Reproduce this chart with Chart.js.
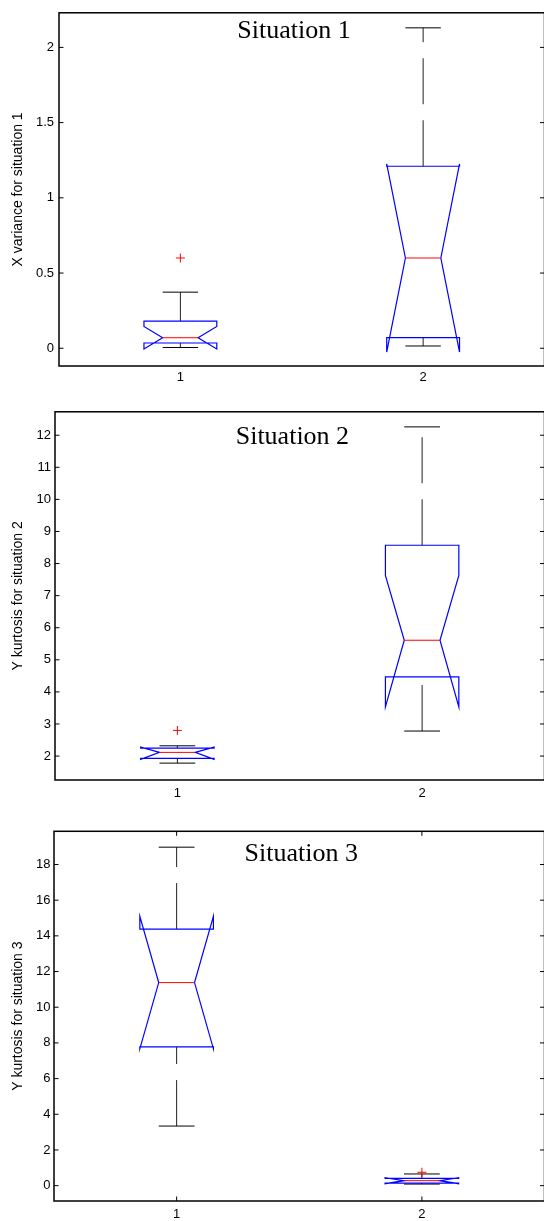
<!DOCTYPE html>
<html>
<head>
<meta charset="utf-8">
<script src="https://cdn.jsdelivr.net/npm/chart.js@4.4.1/dist/chart.umd.min.js"></script>
<style>
html, body { margin: 0; padding: 0; background: #fff; overflow: hidden; width: 544px; height: 1221px; }
canvas { position: absolute; left: 0; }
</style>
</head>
<body>
<canvas id="sit1" width="550" height="400" style="top:0px"></canvas>
<canvas id="sit2" width="550" height="420" style="top:400px"></canvas>
<canvas id="sit3" width="550" height="401" style="top:820px"></canvas>
<script>
// groups on the x axis
const groups = [1, 2];
const xTicks = [1, 2];

// Situation 1 - box stats
const s1WhiskerLo = [0.005, 0.015];
const s1Q1 = [0.035, 0.07];
const s1NotchLo = [-0.005, -0.025];
const s1Median = [0.07, 0.60];
const s1NotchHi = [0.145, 1.225];
const s1Q3 = [0.18, 1.21];
const s1WhiskerHi = [0.373, 2.13];
const s1OutX = [1];
const s1OutY = [0.60];
const s1Ticks = [0, 0.5, 1, 1.5, 2];

// Situation 2
const s2WhiskerLo = [1.78, 2.78];
const s2Q1 = [1.93, 4.47];
const s2NotchLo = [1.90, 3.53];
const s2Median = [2.115, 5.61];
const s2NotchHi = [2.28, 7.63];
const s2Q3 = [2.25, 8.57];
const s2WhiskerHi = [2.32, 12.26];
const s2OutX = [1];
const s2OutY = [2.80];
const s2Ticks = [2, 3, 4, 5, 6, 7, 8, 9, 10, 11, 12];

// Situation 3
const s3WhiskerLo = [3.34, 0.09];
const s3Q1 = [7.78, 0.14];
const s3NotchLo = [7.67, 0.11];
const s3Median = [11.38, 0.28];
const s3NotchHi = [15.09, 0.45];
const s3Q3 = [14.38, 0.41];
const s3WhiskerHi = [18.97, 0.655];
const s3OutX = [2];
const s3OutY = [0.75];
const s3Ticks = [0, 2, 4, 6, 8, 10, 12, 14, 16, 18];

const sansFont = '"Liberation Sans", Arial, Helvetica, sans-serif';
const serifFont = '"Liberation Serif", "Times New Roman", serif';
Chart.defaults.color = '#000';

// draws the notched boxes, the frame, inward ticks and the inner title
function boxPlugin(p) {
	return {
		id: 'notchBox' + p.id,
		beforeDatasetsDraw(chart) {
			const ctx = chart.ctx;
			const x = chart.scales.x, y = chart.scales.y;
			const unit = x.getPixelForValue(1) - x.getPixelForValue(0);
			const half = 0.15 * unit;
			const inner = 0.073 * unit;
			ctx.save();
			ctx.lineWidth = 1;
			groups.forEach(function(g, i) {
				const cx = x.getPixelForValue(g);
				const L = cx - half, R = cx + half;
				const q1 = y.getPixelForValue(p.q1[i]);
				const q3 = y.getPixelForValue(p.q3[i]);
				const med = y.getPixelForValue(p.median[i]);
				const nLo = y.getPixelForValue(p.notchLo[i]);
				const nHi = y.getPixelForValue(p.notchHi[i]);
				const wLo = y.getPixelForValue(p.whiskerLo[i]);
				const wHi = y.getPixelForValue(p.whiskerHi[i]);

				// whiskers, dashed
				ctx.strokeStyle = '#222';
				ctx.setLineDash([46, 16]);
				ctx.beginPath();
				ctx.moveTo(cx, q3);
				ctx.lineTo(cx, wHi);
				ctx.stroke();
				ctx.beginPath();
				ctx.moveTo(cx, wLo);
				ctx.lineTo(cx, q1);
				ctx.stroke();
				ctx.setLineDash([]);

				// whisker caps
				ctx.strokeStyle = '#000';
				ctx.beginPath();
				ctx.moveTo(cx - inner, wHi);
				ctx.lineTo(cx + inner, wHi);
				ctx.moveTo(cx - inner, wLo);
				ctx.lineTo(cx + inner, wLo);
				ctx.stroke();

				// notched box outline
				ctx.strokeStyle = '#0000ff';
				ctx.lineWidth = 1.2;
				ctx.beginPath();
				ctx.moveTo(L, q1);
				ctx.lineTo(L, nLo);
				ctx.lineTo(cx - inner, med);
				ctx.lineTo(L, nHi);
				ctx.lineTo(L, q3);
				ctx.lineTo(R, q3);
				ctx.lineTo(R, nHi);
				ctx.lineTo(cx + inner, med);
				ctx.lineTo(R, nLo);
				ctx.lineTo(R, q1);
				ctx.closePath();
				ctx.stroke();

				// median
				ctx.strokeStyle = '#ff0000';
				ctx.lineWidth = 1;
				ctx.beginPath();
				ctx.moveTo(cx - inner, med);
				ctx.lineTo(cx + inner, med);
				ctx.stroke();
			});
			ctx.restore();
		},
		afterDraw(chart) {
			const ctx = chart.ctx;
			const a = chart.chartArea;
			const x = chart.scales.x, y = chart.scales.y;
			ctx.save();
			ctx.strokeStyle = '#000';
			ctx.lineWidth = 1;
			// inward ticks
			ctx.beginPath();
			p.ticks.forEach(function(v) {
				const py = y.getPixelForValue(v);
				ctx.moveTo(a.left, py);
				ctx.lineTo(a.left + 4.5, py);
				ctx.moveTo(a.right, py);
				ctx.lineTo(a.right - 4.5, py);
			});
			if (p.xTickMarks) {
				xTicks.forEach(function(v) {
					const px = x.getPixelForValue(v);
					ctx.moveTo(px, a.bottom);
					ctx.lineTo(px, a.bottom - 4.5);
					ctx.moveTo(px, a.top);
					ctx.lineTo(px, a.top + 4.5);
				});
			}
			ctx.stroke();
			// frame
			ctx.lineWidth = 1.5;
			ctx.strokeRect(a.left, a.top, a.right - a.left, a.bottom - a.top);
			// title inside the axes
			ctx.fillStyle = '#000';
			ctx.font = '26px ' + serifFont;
			ctx.textAlign = 'center';
			ctx.textBaseline = 'alphabetic';
			ctx.fillText(p.title, x.getPixelForValue(p.titleAt), a.top + p.titleDy);
			ctx.restore();
		}
	};
}

function makePanel(canvasId, p) {
	new Chart(document.getElementById(canvasId), {
		type: 'scatter',
		data: {
			datasets: [{
				data: p.outX.map((v, i) => ({x: v, y: p.outY[i]})),
				pointStyle: 'cross',
				radius: 4.5,
				borderWidth: 1,
				borderColor: '#ff0000',
				backgroundColor: '#ff0000'
			}]
		},
		options: {
			responsive: false,
			animation: false,
			devicePixelRatio: 1,
			events: [],
			layout: {padding: {top: p.padTop, right: p.padRight, left: 0, bottom: 0}},
			plugins: {legend: {display: false}, tooltip: {enabled: false}},
			scales: {
				x: {
					type: 'linear',
					min: 0.5,
					max: 2.5,
					grid: {display: false, drawTicks: false},
					border: {display: false},
					afterBuildTicks: s => { s.ticks = xTicks.map(v => ({value: v})); },
					afterFit: s => { s.height = p.xHeight; },
					ticks: {font: {family: sansFont, size: 13}, padding: p.xPad, maxRotation: 0, callback: v => String(v)}
				},
				y: {
					type: 'linear',
					min: p.min,
					max: p.max,
					grid: {display: false, drawTicks: false},
					border: {display: false},
					afterBuildTicks: s => { s.ticks = p.ticks.map(v => ({value: v})); },
					afterFit: s => { s.width = p.yWidth; },
					ticks: {font: {family: sansFont, size: 13}, padding: p.yPad, callback: v => String(v)},
					title: {display: true, text: p.ylabel, font: {family: sansFont, size: 14}, padding: {top: 10, bottom: 0}}
				}
			}
		},
		plugins: [boxPlugin(p)]
	});
}

makePanel('sit1', {
	id: 1, title: 'Situation 1', ylabel: 'X variance for situation 1',
	q1: s1Q1, q3: s1Q3, median: s1Median, notchLo: s1NotchLo, notchHi: s1NotchHi,
	whiskerLo: s1WhiskerLo, whiskerHi: s1WhiskerHi, outX: s1OutX, outY: s1OutY, ticks: s1Ticks,
	min: -0.118, max: 2.23, padTop: 9, padRight: 4.5, yWidth: 59, xHeight: 34,
	xPad: 4, yPad: 5, titleAt: 1.468, titleDy: 25.5, xTickMarks: false
});

makePanel('sit2', {
	id: 2, title: 'Situation 2', ylabel: 'Y kurtosis for situation 2',
	q1: s2Q1, q3: s2Q3, median: s2Median, notchLo: s2NotchLo, notchHi: s2NotchHi,
	whiskerLo: s2WhiskerLo, whiskerHi: s2WhiskerHi, outX: s2OutX, outY: s2OutY, ticks: s2Ticks,
	min: 1.254, max: 12.73, padTop: 11, padRight: 1, yWidth: 55, xHeight: 40,
	xPad: 6, yPad: 4, titleAt: 1.47, titleDy: 32, xTickMarks: false
});

makePanel('sit3', {
	id: 3, title: 'Situation 3', ylabel: 'Y kurtosis for situation 3',
	q1: s3Q1, q3: s3Q3, median: s3Median, notchLo: s3NotchLo, notchHi: s3NotchHi,
	whiskerLo: s3WhiskerLo, whiskerHi: s3WhiskerHi, outX: s3OutX, outY: s3OutY, ticks: s3Ticks,
	min: -0.86, max: 19.86, padTop: 11, padRight: 1, yWidth: 54, xHeight: 20,
	xPad: 5.5, yPad: 3.5, titleAt: 1.508, titleDy: 30, xTickMarks: true
});
</script>
</body>
</html>
